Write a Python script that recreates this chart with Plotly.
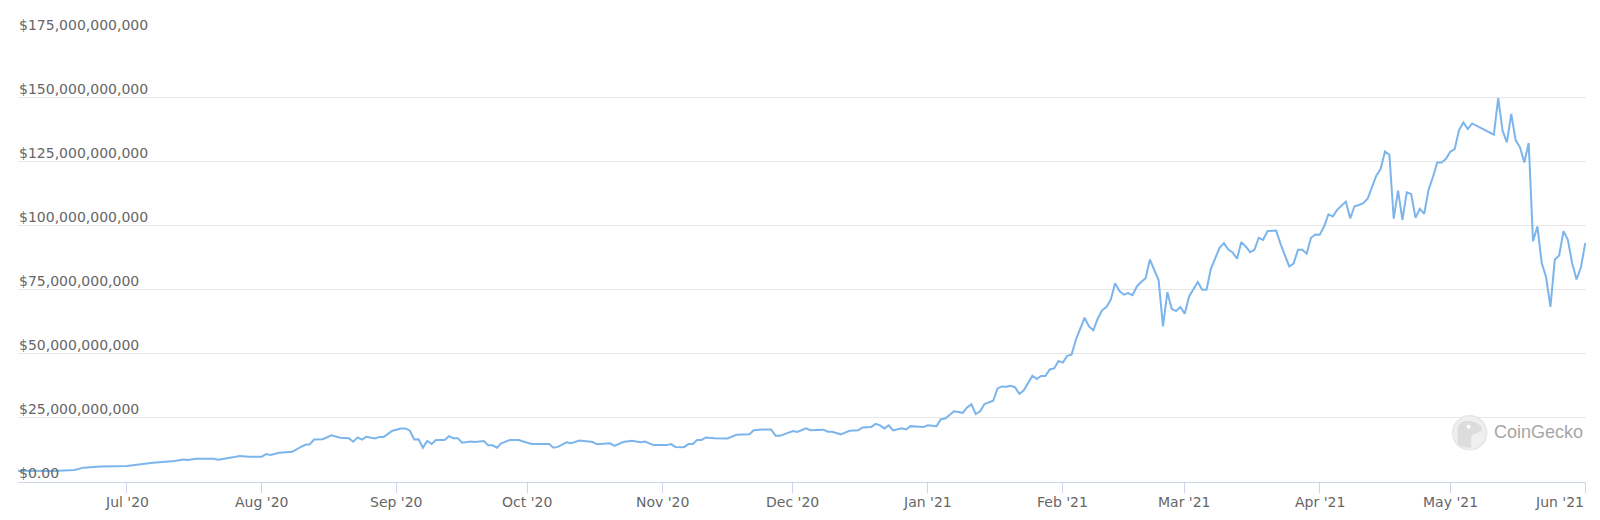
import plotly.graph_objects as go

dates = [
    "2020-06-06", "2020-06-14", "2020-06-19", "2020-06-21", "2020-06-25", "2020-07-01",
    "2020-07-07", "2020-07-12", "2020-07-14", "2020-07-15", "2020-07-17", "2020-07-21",
    "2020-07-22", "2020-07-26", "2020-07-27", "2020-07-29", "2020-08-01", "2020-08-02",
    "2020-08-03", "2020-08-05", "2020-08-08", "2020-08-10", "2020-08-11", "2020-08-12",
    "2020-08-13", "2020-08-15", "2020-08-16", "2020-08-17", "2020-08-19", "2020-08-21",
    "2020-08-22", "2020-08-23", "2020-08-24", "2020-08-25", "2020-08-27", "2020-08-28",
    "2020-08-29", "2020-08-31", "2020-09-02", "2020-09-03", "2020-09-04", "2020-09-05",
    "2020-09-06", "2020-09-07", "2020-09-08", "2020-09-09", "2020-09-10", "2020-09-12",
    "2020-09-13", "2020-09-14", "2020-09-15", "2020-09-16", "2020-09-18", "2020-09-19",
    "2020-09-21", "2020-09-22", "2020-09-23", "2020-09-24", "2020-09-25", "2020-09-27",
    "2020-09-29", "2020-09-30", "2020-10-01", "2020-10-02", "2020-10-06", "2020-10-07",
    "2020-10-08", "2020-10-10", "2020-10-11", "2020-10-13", "2020-10-15", "2020-10-16",
    "2020-10-17", "2020-10-19", "2020-10-20", "2020-10-21", "2020-10-23", "2020-10-25",
    "2020-10-27", "2020-10-28", "2020-10-30", "2020-11-02", "2020-11-03", "2020-11-04",
    "2020-11-06", "2020-11-07", "2020-11-08", "2020-11-09", "2020-11-10", "2020-11-11",
    "2020-11-13", "2020-11-16", "2020-11-18", "2020-11-21", "2020-11-22", "2020-11-24",
    "2020-11-26", "2020-11-27", "2020-11-28", "2020-12-01", "2020-12-02", "2020-12-04",
    "2020-12-05", "2020-12-08", "2020-12-09", "2020-12-10", "2020-12-12", "2020-12-14",
    "2020-12-16", "2020-12-17", "2020-12-19", "2020-12-20", "2020-12-21", "2020-12-22",
    "2020-12-23", "2020-12-24", "2020-12-26", "2020-12-27", "2020-12-28", "2020-12-31",
    "2021-01-01", "2021-01-03", "2021-01-04", "2021-01-05", "2021-01-07", "2021-01-09",
    "2021-01-10", "2021-01-11", "2021-01-12", "2021-01-13", "2021-01-14", "2021-01-16",
    "2021-01-17", "2021-01-18", "2021-01-19", "2021-01-20", "2021-01-21", "2021-01-22",
    "2021-01-23", "2021-01-25", "2021-01-26", "2021-01-27", "2021-01-28", "2021-01-29",
    "2021-01-30", "2021-01-31", "2021-02-01", "2021-02-02", "2021-02-03", "2021-02-04",
    "2021-02-05", "2021-02-06", "2021-02-07", "2021-02-08", "2021-02-09", "2021-02-10",
    "2021-02-11", "2021-02-12", "2021-02-13", "2021-02-14", "2021-02-15", "2021-02-16",
    "2021-02-17", "2021-02-18", "2021-02-19", "2021-02-20", "2021-02-21", "2021-02-22",
    "2021-02-23", "2021-02-24", "2021-02-25", "2021-02-26", "2021-02-27", "2021-02-28",
    "2021-03-01", "2021-03-02", "2021-03-03", "2021-03-04", "2021-03-05", "2021-03-06",
    "2021-03-07", "2021-03-08", "2021-03-09", "2021-03-10", "2021-03-11", "2021-03-12",
    "2021-03-13", "2021-03-14", "2021-03-15", "2021-03-16", "2021-03-17", "2021-03-18",
    "2021-03-19", "2021-03-20", "2021-03-21", "2021-03-22", "2021-03-23", "2021-03-24",
    "2021-03-25", "2021-03-26", "2021-03-27", "2021-03-28", "2021-03-29", "2021-03-30",
    "2021-03-31", "2021-04-01", "2021-04-02", "2021-04-03", "2021-04-04", "2021-04-05",
    "2021-04-06", "2021-04-07", "2021-04-08", "2021-04-09", "2021-04-10", "2021-04-11",
    "2021-04-12", "2021-04-13", "2021-04-14", "2021-04-15", "2021-04-16", "2021-04-17",
    "2021-04-18", "2021-04-19", "2021-04-20", "2021-04-21", "2021-04-22", "2021-04-23",
    "2021-04-24", "2021-04-25", "2021-04-26", "2021-04-27", "2021-04-28", "2021-04-29",
    "2021-04-30", "2021-05-01", "2021-05-02", "2021-05-03", "2021-05-04", "2021-05-05",
    "2021-05-06", "2021-05-11", "2021-05-12", "2021-05-13", "2021-05-14", "2021-05-15",
    "2021-05-16", "2021-05-17", "2021-05-18", "2021-05-19", "2021-05-20", "2021-05-21",
    "2021-05-22", "2021-05-23", "2021-05-24", "2021-05-25", "2021-05-26", "2021-05-27",
    "2021-05-28", "2021-05-29", "2021-05-30", "2021-05-31", "2021-06-01",
]

market_cap_billions = [
    4.4, 4.3, 4.7, 5.6, 6.0, 6.2,
    7.5, 8.2, 8.8, 8.6, 9.1, 9.1,
    8.7, 9.6, 10.1, 9.9, 9.9, 10.9,
    10.5, 11.4, 11.8, 13.7, 14.5, 14.7,
    16.6, 16.7, 17.6, 18.2, 17.3, 17.1,
    15.7, 17.4, 16.5, 17.6, 17.0, 17.6,
    17.6, 20.0, 20.9, 20.9, 20.0, 16.6,
    16.7, 13.4, 16.0, 14.8, 16.4, 16.4,
    17.9, 17.1, 17.1, 15.3, 15.8, 15.6,
    16.0, 14.3, 14.3, 13.4, 15.1, 16.4,
    16.4, 15.7, 15.3, 14.8, 14.8, 13.4,
    13.7, 15.5, 15.1, 16.2, 15.9, 15.6,
    14.7, 15.1, 15.1, 14.1, 15.6, 16.1,
    15.5, 15.8, 14.4, 14.4, 14.8, 13.7,
    13.6, 14.8, 14.8, 16.4, 16.4, 17.4,
    17.1, 17.0, 18.4, 18.6, 20.2, 20.5,
    20.5, 18.0, 18.0, 19.9, 19.5, 20.9,
    20.2, 20.4, 19.6, 19.6, 18.6, 20.0,
    20.2, 21.3, 21.5, 22.7, 22.1, 20.9,
    22.1, 20.1, 21.0, 20.5, 21.8, 21.5,
    22.1, 21.8, 24.5, 24.8, 27.6, 27.0,
    29.1, 30.3, 26.5, 27.6, 30.4, 31.7,
    36.5, 37.3, 37.2, 37.5, 37.0, 34.4,
    35.7, 41.5, 40.2, 41.4, 41.4, 43.9,
    44.3, 47.2, 46.6, 49.2, 49.7, 55.6,
    59.5, 64.1, 60.7, 59.2, 63.7, 67.0,
    68.3, 71.1, 77.6, 74.5, 73.1, 73.7,
    72.9, 76.3, 78.0, 79.5, 86.8, 82.8,
    78.7, 60.7, 74.1, 67.6, 66.7, 68.3,
    65.7, 72.4, 75.4, 78.0, 75.0, 75.0,
    83.2, 87.1, 91.4, 93.2, 90.7, 89.6,
    87.1, 93.6, 91.9, 89.7, 90.6, 95.3,
    94.5, 97.9, 98.0, 98.1, 92.9, 88.7,
    84.1, 85.2, 90.6, 90.6, 89.1, 95.3,
    96.6, 96.5, 99.7, 104.4, 103.6, 106.2,
    107.9, 109.4, 102.9, 107.6, 108.1, 108.8,
    110.5, 115.3, 119.5, 122.2, 129.0, 127.7,
    102.7, 113.7, 102.3, 113.0, 112.4, 103.1,
    106.6, 104.6, 114.0, 118.9, 124.7, 124.7,
    126.1, 128.9, 129.9, 137.3, 140.3, 137.7,
    139.9, 135.5, 149.8, 137.1, 132.5, 143.6,
    133.4, 130.6, 124.7, 132.3, 94.0, 99.7,
    85.4, 79.9, 68.3, 86.8, 88.4, 97.9,
    94.5, 85.2, 79.0, 83.8, 93.3,
]

y_tick_values = [0, 25e9, 50e9, 75e9, 100e9, 125e9, 150e9, 175e9]
y_tick_labels = ["$0.00", "$25,000,000,000", "$50,000,000,000", "$75,000,000,000",
                 "$100,000,000,000", "$125,000,000,000", "$150,000,000,000",
                 "$175,000,000,000"]

x_tick_dates = ["2020-07-01", "2020-08-01", "2020-09-01", "2020-10-01", "2020-11-01",
                "2020-12-01", "2021-01-01", "2021-02-01", "2021-03-01", "2021-04-01",
                "2021-05-01", "2021-06-01"]
x_tick_labels = ["Jul '20", "Aug '20", "Sep '20", "Oct '20", "Nov '20", "Dec '20",
                 "Jan '21", "Feb '21", "Mar '21", "Apr '21", "May '21", "Jun '21"]

values = [v * 1e9 for v in market_cap_billions]

fig = go.Figure()
fig.add_trace(go.Scatter(
    x=dates, y=values, mode="lines",
    line=dict(color="#7cb5ec", width=2),
    hoverinfo="skip",
))

FONT = "DejaVu Sans"
LABEL_COLOR = "#666666"
annotations = []
for v, t in zip(y_tick_values, y_tick_labels):
    annotations.append(dict(
        x=0, xref="paper", xanchor="left", xshift=-1,
        y=v, yref="y", yanchor="bottom", yshift=-1,
        text=t, showarrow=False,
        font=dict(family=FONT, size=14, color=LABEL_COLOR),
    ))

for i, (d, t) in enumerate(zip(x_tick_dates, x_tick_labels)):
    last = i == len(x_tick_dates) - 1
    annotations.append(dict(
        x=d, xref="x", xanchor="right" if last else "center", xshift=1 if last else 0,
        y=0, yref="paper", yanchor="middle", yshift=-20,
        text=t, showarrow=False,
        font=dict(family=FONT, size=14, color=LABEL_COLOR),
    ))

# CoinGecko watermark
annotations.append(dict(
    x=0.9402, xref="paper", xanchor="left",
    y=0.111, yref="paper", yanchor="middle",
    text="CoinGecko", showarrow=False,
    font=dict(family="Liberation Sans", size=18, color="#a6a6a6"),
))

shapes = [
    dict(type="circle", xref="paper", yref="paper",
         xsizemode="pixel", ysizemode="pixel",
         xanchor=0.9258, yanchor=0.1098,
         x0=-17, x1=17, y0=-17, y1=17,
         fillcolor="#efefef", line=dict(color="#e6e6e6", width=1.5), layer="above"),
    dict(type="path", xref="paper", yref="paper",
         xsizemode="pixel", ysizemode="pixel",
         xanchor=0.9258, yanchor=0.1098,
         path="M -12,-12 L -12,6 Q -9,12 -2,12 Q 6,12 12,6 L 12,2 Q 6,-1 3,-2 Q 0,-6 2,-15 Q -6,-15 -12,-12 Z",
         fillcolor="#dcdcdc", line=dict(width=0), layer="above"),
    dict(type="circle", xref="paper", yref="paper",
         xsizemode="pixel", ysizemode="pixel",
         xanchor=0.9258, yanchor=0.1098,
         x0=-3, x1=1, y0=4, y1=8,
         fillcolor="#ffffff", line=dict(width=0), layer="above"),
]

# The page body has an 8px margin, so the figure is sized to fit inside it.
fig.update_layout(
    width=1584, height=504,
    margin=dict(l=10, r=6, t=25, b=30, autoexpand=False),
    paper_bgcolor="white", plot_bgcolor="white",
    showlegend=False,
    annotations=annotations,
    shapes=shapes,
    xaxis=dict(
        type="date",
        range=["2020-06-06", "2021-06-01 04:00"],
        tickmode="array", tickvals=x_tick_dates,
        showticklabels=False,
        ticks="outside", ticklen=10, tickcolor="#ccd6eb", tickwidth=1,
        showline=True, linecolor="#ccd6eb", linewidth=1,
        showgrid=False, zeroline=False, automargin=False,
    ),
    yaxis=dict(
        range=[0, 175.2e9],
        tickvals=y_tick_values,
        showticklabels=False,
        showgrid=True, gridcolor="#e6e6e6", gridwidth=1,
        zeroline=False, showline=False, automargin=False,
    ),
)

fig.write_html("out.html")
